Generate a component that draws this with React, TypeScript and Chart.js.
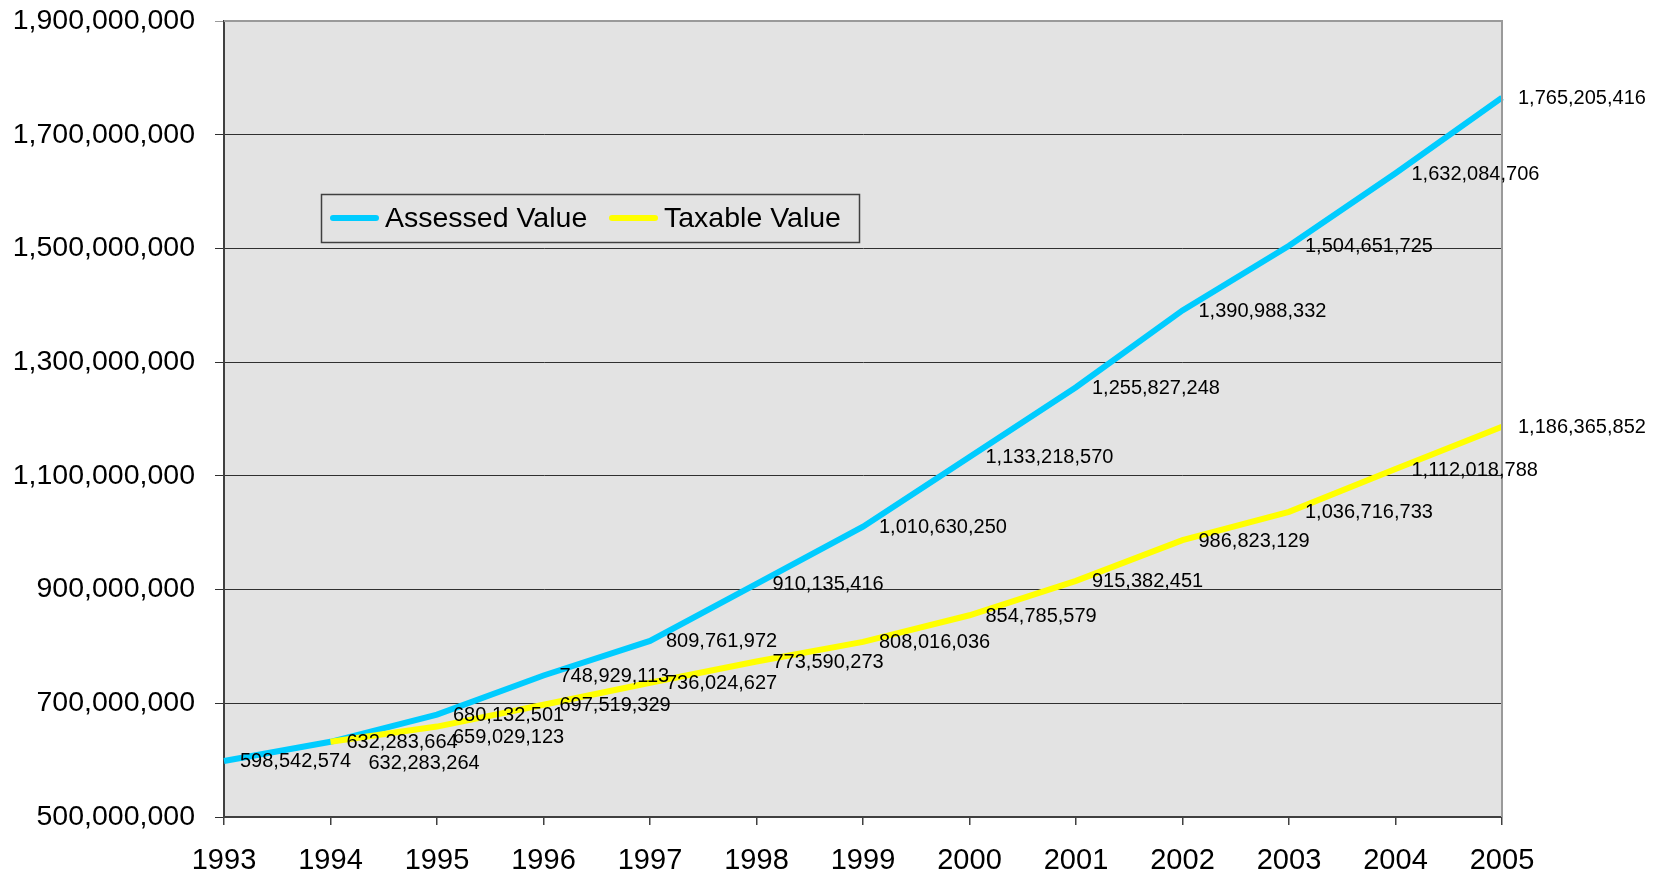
import React, { useEffect, useRef } from "react";
import { Chart, registerables } from "chart.js";

Chart.register(...registerables);

const years = ["1993", "1994", "1995", "1996", "1997", "1998", "1999", "2000", "2001", "2002", "2003", "2004", "2005"];
const assessedValue = [598542574, 632283664, 680132501, 748929113, 809761972, 910135416, 1010630250, 1133218570, 1255827248, 1390988332, 1504651725, 1632084706, 1765205416];
const taxableValue = [null, 632283264, 659029123, 697519329, 736024627, 773590273, 808016036, 854785579, 915382451, 986823129, 1036716733, 1112018788, 1186365852];
const seriesNames = ["Assessed Value", "Taxable Value"];
const yMin = 500000000;
const yMax = 1900000000;
const yStep = 200000000;

// manual label nudges (px) for labels moved in the original, by dataset and index
const labelNudge: Record<string, [number, number]> = {
  "1-1": [22, 21],
  "1-2": [0, 10],
};

const FONT = "'Liberation Sans', Arial, sans-serif";
const PLOT_BG = "#e3e3e3";
const BLUE = "#00ccff";
const YELLOW = "#ffff00";

const fmt = (v: number) => Math.round(v).toLocaleString("en-US");

const plotBgPlugin = {
  id: "plotBg",
  beforeDraw(chart: any) {
    const { ctx, chartArea: a } = chart;
    ctx.save();
    ctx.fillStyle = PLOT_BG;
    ctx.fillRect(a.left, a.top, a.right - a.left, a.bottom - a.top);
    ctx.restore();
  },
  afterDatasetsDraw(chart: any) {
    const { ctx, chartArea: a } = chart;
    ctx.save();
    ctx.strokeStyle = "#9a9a9a";
    ctx.lineWidth = 2;
    ctx.beginPath();
    ctx.moveTo(a.left, a.top);
    ctx.lineTo(a.right, a.top);
    ctx.lineTo(a.right, a.bottom);
    ctx.stroke();
    ctx.restore();
  },
};

const dataLabelPlugin = {
  id: "dataLabels",
  afterDatasetsDraw(chart: any) {
    const { ctx } = chart;
    ctx.save();
    ctx.font = `20px ${FONT}`;
    ctx.fillStyle = "#000";
    ctx.textAlign = "left";
    ctx.textBaseline = "middle";
    chart.data.datasets.forEach((ds: any, di: number) => {
      const meta = chart.getDatasetMeta(di);
      meta.data.forEach((pt: any, i: number) => {
        const v = ds.data[i];
        if (v === null || v === undefined) return;
        const n = labelNudge[`${di}-${i}`] || [0, 0];
        ctx.fillText(fmt(v), pt.x + 16 + n[0], pt.y + 1 + n[1]);
      });
    });
    ctx.restore();
  },
};

const legendPlugin = {
  id: "customLegend",
  afterDraw(chart: any) {
    const { ctx } = chart;
    const bx = 321, by = 194, bw = 538, bh = 48;
    ctx.save();
    ctx.fillStyle = PLOT_BG;
    ctx.fillRect(bx, by, bw, bh);
    ctx.strokeStyle = "#404040";
    ctx.lineWidth = 1.5;
    ctx.strokeRect(bx + 0.5, by + 0.5, bw, bh);
    const cy = by + bh / 2;
    const entries = [
      { x: 330, color: BLUE, text: seriesNames[0] },
      { x: 609, color: YELLOW, text: seriesNames[1] },
    ];
    ctx.font = `28.5px ${FONT}`;
    ctx.textBaseline = "middle";
    ctx.textAlign = "left";
    entries.forEach((e) => {
      ctx.strokeStyle = e.color;
      ctx.lineWidth = 6;
      ctx.lineCap = "round";
      ctx.beginPath();
      ctx.moveTo(e.x + 3, cy);
      ctx.lineTo(e.x + 46, cy);
      ctx.stroke();
      ctx.fillStyle = "#000";
      ctx.fillText(e.text, e.x + 55, cy + 1);
    });
    ctx.restore();
  },
};

export default function App() {
  const ref = useRef<HTMLCanvasElement | null>(null);
  useEffect(() => {
    document.body.style.margin = "0";
    if (!ref.current) return;
    const chart = new Chart(ref.current, {
      type: "line",
      data: {
        labels: years,
        datasets: [
          {
            label: seriesNames[0],
            data: assessedValue,
            borderColor: BLUE,
            backgroundColor: BLUE,
            borderWidth: 6,
            pointRadius: 0,
            tension: 0,
            order: 2,
          },
          {
            label: seriesNames[1],
            data: taxableValue as any,
            borderColor: YELLOW,
            backgroundColor: YELLOW,
            borderWidth: 6,
            pointRadius: 0,
            tension: 0,
            order: 1,
          },
        ],
      },
      options: {
        responsive: false,
        animation: false,
        layout: { padding: { left: 0, top: 21, right: 159, bottom: 0 } },
        plugins: {
          legend: { display: false },
          tooltip: { enabled: false },
        },
        scales: {
          x: {
            type: "category",
            offset: false,
            grid: {
              drawOnChartArea: false,
              drawTicks: true,
              tickLength: 8,
              color: "#404040",
              lineWidth: 1.5,
            },
            border: { color: "#404040", width: 2 },
            ticks: {
              color: "#000",
              font: { family: FONT, size: 29 },
              padding: 19,
              maxRotation: 0,
              autoSkip: false,
            },
            afterFit(scale: any) {
              scale.height = 58;
              scale.paddingLeft = 0;
              scale.paddingRight = 0;
            },
          },
          y: {
            min: yMin,
            max: yMax,
            grid: {
              color: (c: any) => (c.tick && c.tick.value === yMax ? "#9a9a9a" : "#303030"),
              lineWidth: 1,
              drawTicks: true,
              tickLength: 9,
            },
            border: { color: "#404040", width: 2 },
            ticks: {
              stepSize: yStep,
              color: "#000",
              font: { family: FONT, size: 28.5 },
              padding: 20,
              callback: (v: any) => fmt(Number(v)),
            },
            afterFit(scale: any) {
              scale.width = 224;
              scale.paddingTop = 0;
              scale.paddingBottom = 0;
            },
          },
        },
      },
      plugins: [plotBgPlugin, dataLabelPlugin, legendPlugin],
    });
    return () => chart.destroy();
  }, []);
  return (
    <div style={{ width: 1661, height: 875 }}>
      <canvas ref={ref} width={1661} height={875} style={{ display: "block" }} />
    </div>
  );
}
